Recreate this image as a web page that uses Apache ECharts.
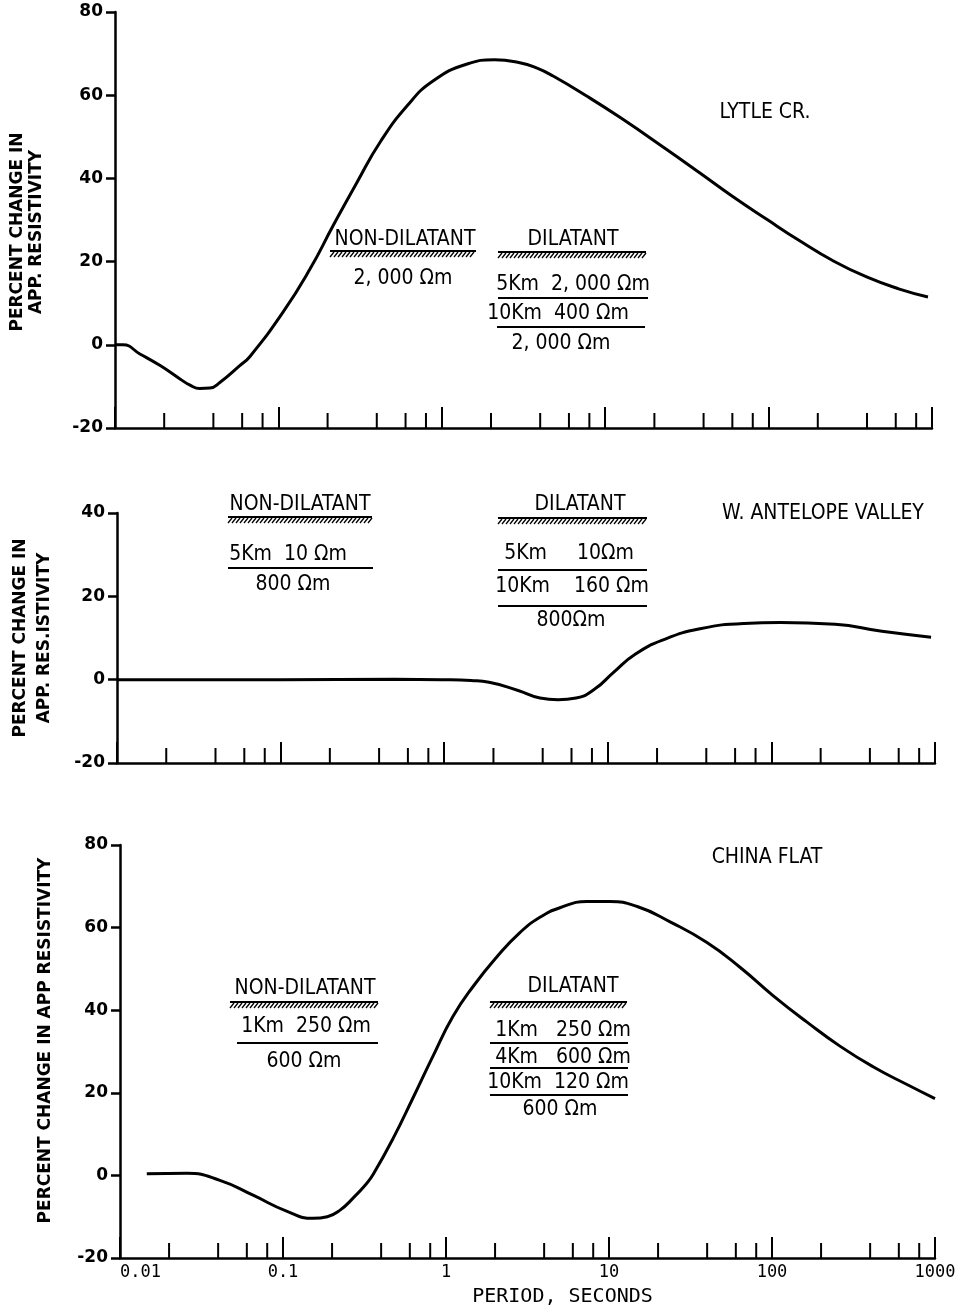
<!DOCTYPE html>
<html>
<head>
<meta charset="utf-8">
<script src="https://cdn.jsdelivr.net/npm/echarts/dist/echarts.min.js"></script>
<style>
html,body{margin:0;padding:0;background:#fff;}
#chart{width:962px;height:1312px;}
</style>
</head>
<body>
<div id="chart"></div>
<script>
// ---------------- data ----------------
const xTickLabels = ['0.01', '0.1', '1', '10', '100', '1000'];
const minorMultipliers = [2, 4, 6, 8];
const decades = [0.01, 0.1, 1, 10, 100];

const lytlePeriods = [0.01, 0.0112, 0.0142, 0.0189, 0.025, 0.0288, 0.033, 0.038, 0.044, 0.058, 0.067, 0.107, 0.156, 0.216, 0.303, 0.419, 0.612, 0.883, 1.43, 2.1, 3.0, 3.83, 4.8, 7.7, 12.5, 23.9, 38, 60, 98, 155, 248, 398, 632, 945];
const lytleValues  = [0, 0, -2.2, -5, -8.2, -9.7, -10.5, -10.4, -9, -5, -2.8, 7.9, 18.2, 28.6, 39.1, 48.7, 57.4, 63.4, 67.5, 68.5, 67.8, 66.5, 64.6, 59.8, 54.5, 46.9, 41.3, 35.7, 30.1, 25.0, 20.2, 16.3, 13.4, 11.5];

const antelopePeriods = [0.01, 0.1, 0.5, 1.0, 1.46, 1.88, 2.83, 3.85, 4.96, 6.4, 8.36, 10.8, 14.7, 22, 36.6, 68, 113, 245, 474, 946];
const antelopeValues  = [0, 0, 0.1, 0, -0.2, -0.6, -2.6, -4.4, -4.8, -4.4, -2.2, 1.7, 6.1, 9.6, 12.2, 13.5, 13.7, 13.3, 11.6, 10.2];

const chinaPeriods = [0.0146, 0.0258, 0.041, 0.0655, 0.106, 0.153, 0.187, 0.224, 0.269, 0.325, 0.357, 0.473, 0.628, 0.832, 1.10, 1.47, 2.06, 2.84, 3.77, 5.0, 7.33, 10.1, 14.9, 23.7, 39.9, 63.6, 101, 164, 261, 417, 673, 1000];
const chinaValues  = [0.4, 0.5, -1.2, -4.8, -8.7, -10.4, -10.0, -8.4, -5.5, -2.0, 0.2, 8.9, 18.8, 28.9, 38.4, 45.8, 53, 58.8, 62.5, 64.8, 66.3, 66.3, 65.1, 61.4, 56.4, 50.4, 43.6, 37.1, 31.3, 26.3, 22.0, 18.6];

const yRanges = [[-20, 80], [-20, 40], [-20, 80]];
const panelTitles = ['LYTLE CR.', 'W. ANTELOPE VALLEY', 'CHINA FLAT'];
const yNames = ['PERCENT CHANGE IN\nAPP. RESISTIVITY', 'PERCENT CHANGE IN\nAPP. RES.ISTIVITY', 'PERCENT CHANGE IN APP RESISTIVITY'];
const xName = 'PERIOD, SECONDS';

// ---------------- build ----------------
const minorTicks = [];
decades.forEach(d => minorMultipliers.forEach(m => minorTicks.push(+(d * m).toPrecision(3))));

const zip = (a, b) => a.map((v, i) => [v, b[i]]);
const curves = [zip(lytlePeriods, lytleValues), zip(antelopePeriods, antelopeValues), zip(chinaPeriods, chinaValues)];

const grids = [
  {left: 115, top: 12, width: 817, height: 416},
  {left: 117, top: 513, width: 818, height: 250},
  {left: 120, top: 845, width: 815, height: 413}
];

const labelFont = {fontFamily: 'DejaVu Sans', fontWeight: 'bold', fontSize: 17, color: '#000'};
const nameGaps = [69, 60, 65];
const namePads = [[0, 24, 0, 0], [0, 0, 0, 0], [0, 0, 0, 22]];
const nameLH = [19, 24, 19];

const xAxes = grids.map((g, i) => ({
  type: 'log', logBase: 10, gridIndex: i, min: 0.01, max: 1000,
  axisLine: {onZero: false, lineStyle: {color: '#000', width: 2.5}},
  axisTick: {inside: true, length: 21, lineStyle: {color: '#000', width: 2}},
  splitLine: {show: false},
  axisLabel: i === 2 ? {
    show: true, margin: 6, fontFamily: 'DejaVu Sans Mono', fontSize: 17, color: '#000',
    alignMinLabel: 'left',
    formatter: (v, idx) => xTickLabels[idx]
  } : {show: false},
  name: i === 2 ? xName : '',
  nameLocation: 'middle', nameGap: 29,
  nameTextStyle: {fontFamily: 'DejaVu Sans Mono', fontSize: 20, color: '#000', padding: [0, 0, 0, 70]}
}));

const yAxes = grids.map((g, i) => ({
  type: 'value', gridIndex: i, min: yRanges[i][0], max: yRanges[i][1], interval: 20,
  axisLine: {show: true, onZero: false, lineStyle: {color: '#000', width: 2.5}},
  axisTick: {show: true, length: 9, lineStyle: {color: '#000', width: 2.5}},
  splitLine: {show: false},
  axisLabel: Object.assign({margin: 12}, labelFont),
  name: yNames[i], nameLocation: 'middle', nameRotate: 90, nameGap: nameGaps[i],
  nameTextStyle: {fontFamily: 'DejaVu Sans', fontWeight: 'bold', fontSize: 17, color: '#000', lineHeight: nameLH[i], padding: namePads[i]}
}));

const series = [];
curves.forEach((c, i) => {
  series.push({
    type: 'line', xAxisIndex: i, yAxisIndex: i, data: c, smooth: 0.5,
    showSymbol: false, symbol: 'none',
    lineStyle: {color: '#000', width: 3}
  });
  series.push({
    type: 'custom', xAxisIndex: i, yAxisIndex: i,
    data: minorTicks.map(v => [v, yRanges[i][0]]),
    renderItem: (params, api) => {
      const p = api.coord([api.value(0), api.value(1)]);
      return {type: 'line', shape: {x1: p[0], y1: p[1], x2: p[0], y2: p[1] - 15},
              style: {stroke: '#000', lineWidth: 2}};
    },
    silent: true
  });
});

// ---------------- annotations ----------------
const annFont = '21px "Liberation Sans Narrow", "DejaVu Sans Condensed", sans-serif';
function txt(x, y, s, font) {
  return {type: 'text', x: x, y: y, silent: true,
          style: {text: s, font: font || annFont, fill: '#000', align: 'center', verticalAlign: 'middle'}};
}
function hline(x1, x2, y, w) {
  return {type: 'line', silent: true, shape: {x1: x1, y1: y, x2: x2, y2: y}, style: {stroke: '#000', lineWidth: w || 2}};
}
function hatch(x1, x2, y) {
  const els = [hline(x1, x2, y, 2)];
  for (let x = x1; x < x2 - 3; x += 4) {
    els.push({type: 'line', silent: true, shape: {x1: x, y1: y + 6, x2: x + 4, y2: y + 1}, style: {stroke: '#000', lineWidth: 1.3}});
  }
  return els;
}
const g = [];
// panel 1
g.push(txt(765, 113, panelTitles[0]));
g.push(txt(405, 240, 'NON-DILATANT'));
g.push(...hatch(330, 476, 251));
g.push(txt(403, 279, '2, 000 Ωm'));
g.push(txt(573, 240, 'DILATANT'));
g.push(...hatch(498, 646, 252));
g.push(txt(573, 285, '5Km  2, 000 Ωm'));
g.push(hline(498, 648, 298));
g.push(txt(558, 314, '10Km  400 Ωm'));
g.push(hline(497, 645, 327));
g.push(txt(561, 344, '2, 000 Ωm'));
// panel 2
g.push(txt(823, 514, panelTitles[1]));
g.push(txt(300, 505, 'NON-DILATANT'));
g.push(...hatch(228, 372, 517));
g.push(txt(288, 555, '5Km  10 Ωm'));
g.push(hline(228, 373, 568));
g.push(txt(293, 585, '800 Ωm'));
g.push(txt(580, 505, 'DILATANT'));
g.push(...hatch(498, 647, 518));
g.push(txt(569, 554, '5Km     10Ωm'));
g.push(hline(498, 647, 570));
g.push(txt(572, 587, '10Km    160 Ωm'));
g.push(hline(498, 647, 606));
g.push(txt(571, 621, '800Ωm'));
// panel 3
g.push(txt(767, 858, panelTitles[2]));
g.push(txt(305, 989, 'NON-DILATANT'));
g.push(...hatch(230, 378, 1002));
g.push(txt(306, 1027, '1Km  250 Ωm'));
g.push(hline(237, 378, 1043));
g.push(txt(304, 1062, '600 Ωm'));
g.push(txt(573, 987, 'DILATANT'));
g.push(...hatch(490, 627, 1002));
g.push(txt(563, 1031, '1Km   250 Ωm'));
g.push(hline(490, 628, 1043));
g.push(txt(563, 1058, '4Km   600 Ωm'));
g.push(hline(490, 628, 1068));
g.push(txt(558, 1083, '10Km  120 Ωm'));
g.push(hline(490, 628, 1095));
g.push(txt(560, 1110, '600 Ωm'));

const chart = echarts.init(document.getElementById('chart'), null, {renderer: 'canvas'});
chart.setOption({
  animation: false,
  backgroundColor: '#fff',
  grid: grids,
  xAxis: xAxes,
  yAxis: yAxes,
  series: series,
  graphic: g
});
</script>
</body>
</html>
